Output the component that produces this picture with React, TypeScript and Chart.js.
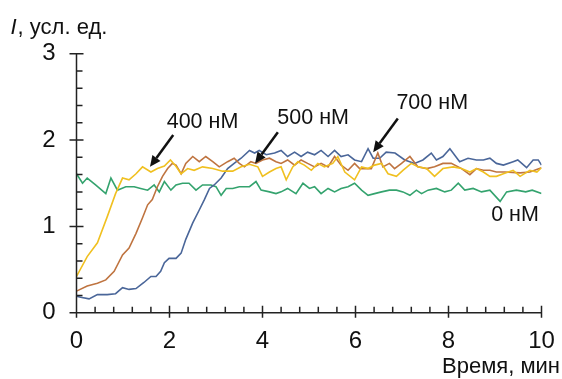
import React, { useEffect, useRef } from 'react';
import { Chart, registerables } from 'chart.js';

Chart.register(...registerables);

// ---- data (time in min, intensity in arb. units) ----
const T_400 = [0.00, 0.23, 0.45, 0.66, 0.84, 0.99, 1.13, 1.28, 1.42, 1.60, 1.74, 1.89, 2.02, 2.12, 2.25, 2.39, 2.53, 2.71, 2.93, 3.14, 3.36, 3.54, 3.72, 3.90, 4.00, 4.15, 4.29, 4.40, 4.51, 4.65, 4.76, 4.90, 5.05, 5.19, 5.33, 5.51, 5.62, 5.77, 5.98, 6.13, 6.27, 6.41, 6.56, 6.70, 6.88, 7.02, 7.20, 7.34, 7.53, 7.70, 7.88, 8.10, 8.28, 8.46, 8.60, 8.75, 8.89, 9.03, 9.18, 9.39, 9.54, 9.75, 9.90, 10.0];
const I_400 = [0.42, 0.65, 0.81, 1.11, 1.38, 1.56, 1.54, 1.61, 1.69, 1.63, 1.67, 1.70, 1.77, 1.71, 1.61, 1.67, 1.65, 1.69, 1.67, 1.64, 1.64, 1.69, 1.72, 1.69, 1.58, 1.63, 1.67, 1.69, 1.54, 1.69, 1.75, 1.71, 1.65, 1.73, 1.69, 1.73, 1.81, 1.63, 1.54, 1.69, 1.67, 1.71, 1.73, 1.61, 1.58, 1.65, 1.73, 1.69, 1.67, 1.58, 1.67, 1.69, 1.67, 1.63, 1.67, 1.63, 1.58, 1.58, 1.61, 1.65, 1.58, 1.65, 1.63, 1.68];

const T_500 = [0.00, 0.23, 0.45, 0.63, 0.81, 0.99, 1.13, 1.28, 1.42, 1.53, 1.63, 1.74, 1.85, 1.96, 2.06, 2.14, 2.25, 2.35, 2.50, 2.64, 2.78, 2.93, 3.07, 3.25, 3.39, 3.50, 3.61, 3.75, 3.86, 4.00, 4.15, 4.29, 4.40, 4.54, 4.69, 4.83, 4.97, 5.12, 5.26, 5.41, 5.55, 5.69, 5.84, 5.98, 6.09, 6.23, 6.34, 6.48, 6.59, 6.73, 6.84, 6.99, 7.17, 7.34, 7.53, 7.70, 7.88, 8.06, 8.28, 8.46, 8.60, 8.75, 8.89, 9.03, 9.21, 9.54, 9.75, 10.0];
const I_500 = [0.25, 0.31, 0.34, 0.38, 0.48, 0.67, 0.75, 0.92, 1.10, 1.25, 1.31, 1.46, 1.58, 1.67, 1.73, 1.71, 1.61, 1.73, 1.81, 1.75, 1.81, 1.75, 1.69, 1.75, 1.79, 1.73, 1.69, 1.75, 1.73, 1.77, 1.79, 1.75, 1.73, 1.77, 1.71, 1.77, 1.73, 1.69, 1.73, 1.69, 1.81, 1.71, 1.65, 1.73, 1.67, 1.67, 1.67, 1.85, 1.69, 1.73, 1.67, 1.73, 1.81, 1.69, 1.67, 1.69, 1.73, 1.73, 1.67, 1.60, 1.67, 1.65, 1.65, 1.63, 1.63, 1.62, 1.63, 1.68];

const T_700 = [0.00, 0.09, 0.27, 0.45, 0.66, 0.84, 0.99, 1.13, 1.28, 1.45, 1.60, 1.71, 1.81, 1.89, 1.99, 2.14, 2.25, 2.35, 2.50, 2.64, 2.75, 2.86, 2.96, 3.11, 3.25, 3.39, 3.54, 3.72, 3.83, 3.93, 4.08, 4.26, 4.40, 4.54, 4.69, 4.83, 4.97, 5.12, 5.26, 5.41, 5.55, 5.69, 5.84, 5.98, 6.13, 6.27, 6.38, 6.52, 6.66, 6.85, 7.06, 7.27, 7.45, 7.63, 7.74, 7.88, 8.03, 8.24, 8.42, 8.60, 8.75, 8.89, 9.03, 9.18, 9.39, 9.49, 9.68, 9.82, 9.93, 10.0];
const I_700 = [0.19, 0.18, 0.16, 0.21, 0.21, 0.22, 0.29, 0.27, 0.28, 0.35, 0.42, 0.42, 0.48, 0.58, 0.63, 0.63, 0.69, 0.85, 1.04, 1.19, 1.31, 1.44, 1.48, 1.56, 1.67, 1.73, 1.79, 1.88, 1.85, 1.88, 1.83, 1.85, 1.88, 1.81, 1.86, 1.81, 1.86, 1.83, 1.88, 1.81, 1.88, 1.81, 1.83, 1.77, 1.75, 1.90, 1.79, 1.79, 1.86, 1.85, 1.77, 1.73, 1.77, 1.85, 1.77, 1.81, 1.90, 1.75, 1.79, 1.77, 1.77, 1.79, 1.73, 1.71, 1.75, 1.77, 1.68, 1.77, 1.77, 1.71];

const T_0 = [0.00, 0.13, 0.23, 0.41, 0.63, 0.74, 0.88, 1.06, 1.24, 1.38, 1.53, 1.67, 1.78, 1.89, 2.03, 2.14, 2.28, 2.42, 2.57, 2.71, 2.89, 3.00, 3.11, 3.22, 3.36, 3.50, 3.72, 3.86, 3.97, 4.15, 4.29, 4.40, 4.54, 4.72, 4.87, 5.01, 5.12, 5.26, 5.41, 5.55, 5.69, 5.84, 5.98, 6.13, 6.27, 6.41, 6.56, 6.73, 6.88, 7.02, 7.17, 7.31, 7.42, 7.56, 7.74, 7.92, 8.06, 8.21, 8.35, 8.53, 8.71, 8.89, 9.11, 9.25, 9.46, 9.66, 9.80, 10.0];
const I_0 = [1.61, 1.50, 1.56, 1.48, 1.38, 1.56, 1.42, 1.46, 1.46, 1.44, 1.42, 1.48, 1.40, 1.52, 1.42, 1.48, 1.50, 1.50, 1.42, 1.48, 1.48, 1.46, 1.36, 1.44, 1.44, 1.46, 1.46, 1.52, 1.42, 1.40, 1.38, 1.40, 1.44, 1.38, 1.50, 1.44, 1.46, 1.38, 1.44, 1.40, 1.44, 1.46, 1.50, 1.42, 1.36, 1.38, 1.40, 1.42, 1.42, 1.40, 1.36, 1.42, 1.38, 1.42, 1.44, 1.40, 1.42, 1.50, 1.42, 1.44, 1.40, 1.42, 1.29, 1.40, 1.42, 1.40, 1.42, 1.38];

const X_MIN = 0, X_MAX = 10, X_STEP = 2, X_MINOR = 0.4;
const Y_MIN = 0, Y_MAX = 3, Y_STEP = 1, Y_MINOR = 0.2;

const SERIES_LABELS = ['400 нМ', '500 нМ', '700 нМ', '0 нМ'];
const Y_TITLE_ITALIC = 'I';
const Y_TITLE_REST = ', усл. ед.';
const X_TITLE = 'Время, мин';

// annotation callouts in data units: label centre, arrow tail, arrow tip
const CALLOUTS = [
  { text: '400 нМ', tx: 2.71, ty: 2.21, ax: 2.08, ay: 2.06, bx: 1.58, by: 1.69 },
  { text: '500 нМ', tx: 5.09, ty: 2.26, ax: 4.33, ay: 2.09, bx: 3.84, by: 1.73 },
  { text: '700 нМ', tx: 7.65, ty: 2.43, ax: 6.91, ay: 2.25, bx: 6.38, by: 1.86 },
  { text: '0 нМ', tx: 9.43, ty: 1.13 },
];

const FONT = '"Liberation Sans", Arial, sans-serif';
const COLORS = ['#F0C020', '#BF7440', '#4A6699', '#34A36E'];

function pts(t: number[], v: number[]) {
  return t.map((x, i) => ({ x, y: v[i] }));
}

const decorPlugin = {
  id: 'decor',
  afterDraw(chart: any) {
    const { ctx, scales, chartArea } = chart;
    const xs = scales.x, ys = scales.y;
    const x0 = xs.getPixelForValue(X_MIN), x1 = xs.getPixelForValue(X_MAX);
    const y0 = ys.getPixelForValue(Y_MIN), y1 = ys.getPixelForValue(Y_MAX);
    ctx.save();
    ctx.strokeStyle = '#222';
    ctx.lineWidth = 1.5;
    ctx.beginPath();
    ctx.moveTo(x0, y0); ctx.lineTo(x0, y1);
    ctx.moveTo(x0, y0); ctx.lineTo(x1, y0);
    const nY = Math.round((Y_MAX - Y_MIN) / Y_MINOR);
    const perY = Math.round(Y_STEP / Y_MINOR);
    for (let k = 0; k <= nY; k++) {
      const py = ys.getPixelForValue(Y_MIN + k * Y_MINOR);
      const major = k % perY === 0;
      ctx.moveTo(major ? x0 - 7 : x0, py);
      ctx.lineTo(x0 + (major ? 7 : 6), py);
    }
    const nX = Math.round((X_MAX - X_MIN) / X_MINOR);
    const perX = Math.round(X_STEP / X_MINOR);
    for (let k = 0; k <= nX; k++) {
      const px = xs.getPixelForValue(X_MIN + k * X_MINOR);
      const major = k % perX === 0;
      ctx.moveTo(px, major ? y0 + 5 : y0);
      ctx.lineTo(px, y0 - (major ? 7 : 6));
    }
    ctx.stroke();

    // axis titles
    ctx.fillStyle = '#111';
    ctx.textBaseline = 'alphabetic';
    ctx.textAlign = 'left';
    const tyX = chartArea.left - 66;
    const tyY = y1 - 20;
    ctx.font = `italic 22px ${FONT}`;
    ctx.fillText(Y_TITLE_ITALIC, tyX, tyY);
    const iw = ctx.measureText(Y_TITLE_ITALIC).width;
    ctx.font = `22px ${FONT}`;
    ctx.fillText(Y_TITLE_REST, tyX + iw + 1, tyY);
    ctx.textAlign = 'right';
    ctx.fillText(X_TITLE, chart.width - 2, y0 + 60);

    // callouts
    ctx.textAlign = 'center';
    ctx.textBaseline = 'middle';
    ctx.font = `21.5px ${FONT}`;
    for (const c of CALLOUTS) {
      ctx.fillStyle = '#111';
      ctx.fillText(c.text, xs.getPixelForValue(c.tx), ys.getPixelForValue(c.ty));
      if (c.ax === undefined) continue;
      const ax = xs.getPixelForValue(c.ax), ay = ys.getPixelForValue(c.ay);
      const bx = xs.getPixelForValue(c.bx), by = ys.getPixelForValue(c.by);
      const ang = Math.atan2(by - ay, bx - ax);
      const hl = 11, hw = 5;
      const baseX = bx - hl * Math.cos(ang), baseY = by - hl * Math.sin(ang);
      ctx.strokeStyle = '#111';
      ctx.lineWidth = 2.5;
      ctx.beginPath();
      ctx.moveTo(ax, ay);
      ctx.lineTo(baseX, baseY);
      ctx.stroke();
      ctx.beginPath();
      ctx.moveTo(bx, by);
      ctx.lineTo(baseX + hw * Math.sin(ang), baseY - hw * Math.cos(ang));
      ctx.lineTo(baseX - hw * Math.sin(ang), baseY + hw * Math.cos(ang));
      ctx.closePath();
      ctx.fill();
    }
    ctx.restore();
  },
};

export default function App() {
  const ref = useRef<HTMLCanvasElement>(null);
  useEffect(() => {
    if (!ref.current) return;
    const series = [[T_400, I_400], [T_500, I_500], [T_700, I_700], [T_0, I_0]];
    const chart = new Chart(ref.current, {
      type: 'line',
      data: {
        datasets: series.map((s, i) => ({
          label: SERIES_LABELS[i],
          data: pts(s[0], s[1]),
          borderColor: COLORS[i],
          backgroundColor: COLORS[i],
          borderWidth: 1.6,
          pointRadius: 0,
          tension: 0,
          fill: false,
        })),
      },
      options: {
        responsive: false,
        animation: false,
        devicePixelRatio: 1,
        layout: { padding: { left: 0, right: 20.5, top: 53.8, bottom: 0 } },
        plugins: { legend: { display: false }, tooltip: { enabled: false } },
        scales: {
          x: {
            type: 'linear',
            min: X_MIN,
            max: X_MAX,
            grid: { display: false, drawTicks: false },
            border: { display: false },
            ticks: { stepSize: X_STEP, color: '#111', padding: 14, font: { family: FONT, size: 24 }, maxRotation: 0 },
            afterFit: (s: any) => { s.height = 66.3; s.paddingLeft = 0; s.paddingRight = 0; },
          },
          y: {
            type: 'linear',
            min: Y_MIN,
            max: Y_MAX,
            grid: { display: false, drawTicks: false },
            border: { display: false },
            ticks: { stepSize: Y_STEP, color: '#111', padding: 21, font: { family: FONT, size: 24 } },
            afterFit: (s: any) => { s.width = 76.5; s.paddingTop = 0; s.paddingBottom = 0; },
          },
        },
      },
      plugins: [decorPlugin],
    });
    return () => chart.destroy();
  }, []);
  return (
    <div style={{ position: 'absolute', left: 0, top: 0, width: 562, height: 379, background: '#fff' }}>
      <canvas ref={ref} width={562} height={379} style={{ width: 562, height: 379 }} />
    </div>
  );
}
